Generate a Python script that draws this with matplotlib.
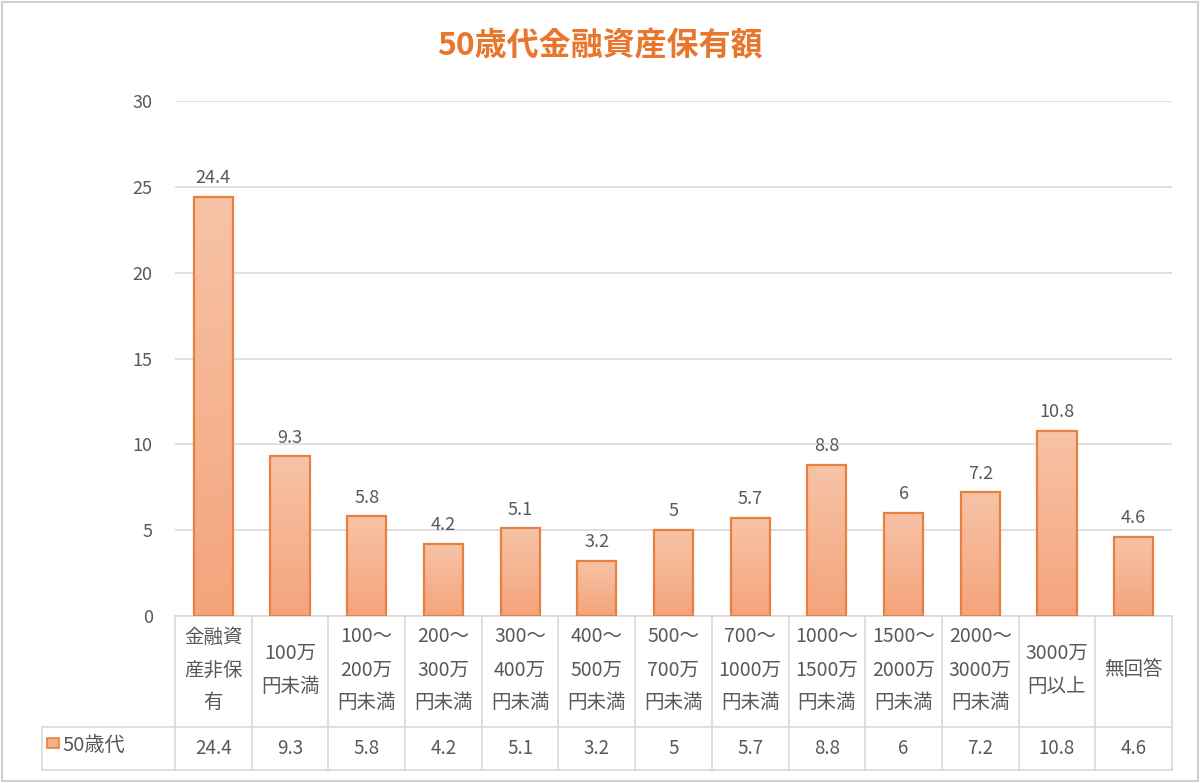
import matplotlib
matplotlib.use("Agg")
import matplotlib.pyplot as plt
import numpy as np
from matplotlib.patches import Rectangle
from matplotlib.lines import Line2D
from matplotlib.colors import LinearSegmentedColormap

plt.rcParams['font.family'] = ['Noto Sans CJK JP', 'DejaVu Sans']

title = "50歳代金融資産保有額"
series_name = "50歳代"
categories = ["金融資\n産非保\n有", "100万\n円未満", "100～\n200万\n円未満", "200～\n300万\n円未満",
              "300～\n400万\n円未満", "400～\n500万\n円未満", "500～\n700万\n円未満", "700～\n1000万\n円未満",
              "1000～\n1500万\n円未満", "1500～\n2000万\n円未満", "2000～\n3000万\n円未満", "3000万\n円以上", "無回答"]
values = [24.4, 9.3, 5.8, 4.2, 5.1, 3.2, 5, 5.7, 8.8, 6, 7.2, 10.8, 4.6]
value_labels = ["24.4", "9.3", "5.8", "4.2", "5.1", "3.2", "5", "5.7", "8.8", "6", "7.2", "10.8", "4.6"]
yticks = [0, 5, 10, 15, 20, 25, 30]

W, H = 1200, 783
fig = plt.figure(figsize=(W/100, H/100), dpi=100)
fig.patch.set_facecolor('white')

# figure border
fig.add_artist(Rectangle((2/W, 2/H), 1-4/W, 1-4/H, transform=fig.transFigure,
                         fill=False, edgecolor='#D0D0D0', linewidth=1.5))

ax_left, ax_right = 175/W, 1172/W
ax_bottom, ax_top = (H-616)/H, (H-101)/H
ax = fig.add_axes([ax_left, ax_bottom, ax_right-ax_left, ax_top-ax_bottom])
for s in ax.spines.values():
    s.set_visible(False)
ax.set_yticks(yticks)
ax.set_yticklabels([str(t) for t in yticks], fontsize=13, color='#595959')
ax.tick_params(axis='y', length=0, pad=16)
ax.set_xticks([])
ax.yaxis.grid(True, color='#D9D9D9', linewidth=1.2)
ax.set_axisbelow(True)

# gradient bars
grad = np.linspace(0, 1, 256).reshape(-1, 1)
cmap = LinearSegmentedColormap.from_list('g', ['#F4A47C', '#F7C3A6'])
bars = ax.bar(range(len(values)), values, width=0.51, facecolor='none',
              edgecolor='#E8803F', linewidth=1.6, zorder=3)
for b in bars:
    x0, y0 = b.get_x(), b.get_y()
    w, h = b.get_width(), b.get_height()
    im = ax.imshow(grad, extent=[x0, x0+w, y0, y0+h], origin='lower', cmap=cmap,
                   aspect='auto', zorder=2.5, interpolation='bilinear')
    im.set_clip_path(b)
ax.set_xlim(-0.5, len(values)-0.5)
ax.set_ylim(0, 30)

for i, (v, lab) in enumerate(zip(values, value_labels)):
    ax.annotate(lab, (i, v), xytext=(0, 7), textcoords='offset points',
                ha='center', va='bottom', fontsize=13, color='#595959')

# data table
tr = ax.get_xaxis_transform()
px = 515.0
y_top = 0.0
y_mid = (616-727)/px
y_bot = (616-770)/px
lc = '#D9D9D9'
lw = 1.2
n = len(values)
x_leg = -0.5 + (42-175)/(997/n)
ax.add_line(Line2D([-0.5, n-0.5], [y_top, y_top], transform=tr, color=lc, lw=lw, clip_on=False))
ax.add_line(Line2D([x_leg, n-0.5], [y_mid, y_mid], transform=tr, color=lc, lw=lw, clip_on=False))
ax.add_line(Line2D([x_leg, n-0.5], [y_bot, y_bot], transform=tr, color=lc, lw=lw, clip_on=False))
for k in range(n+1):
    xx = k-0.5
    ax.add_line(Line2D([xx, xx], [y_top, y_bot], transform=tr, color=lc, lw=lw, clip_on=False))
ax.add_line(Line2D([x_leg, x_leg], [y_mid, y_bot], transform=tr, color=lc, lw=lw, clip_on=False))

for i, cat in enumerate(categories):
    ax.text(i, (y_top+y_mid)/2 + 0.003, cat, transform=tr, ha='center', va='center',
            fontsize=14, color='#595959', linespacing=1.75)
    ax.text(i, (y_mid+y_bot)/2, value_labels[i], transform=tr, ha='center', va='center',
            fontsize=13.5, color='#595959')

# legend key in table
fig.add_artist(Rectangle((47/W, (H-748)/H), 12/W, 10/H, transform=fig.transFigure,
                         facecolor='#F5AE88', edgecolor='#E8803F', linewidth=1.2))
fig.text(62/W, (H-745)/H, series_name, ha='left', va='center', fontsize=14.5, color='#595959')

fig.text(0.5, (H-45)/H, title, ha='center', va='center', fontsize=23, fontweight='bold',
         color='#E8762D')

fig.savefig('out.png', dpi=100)
